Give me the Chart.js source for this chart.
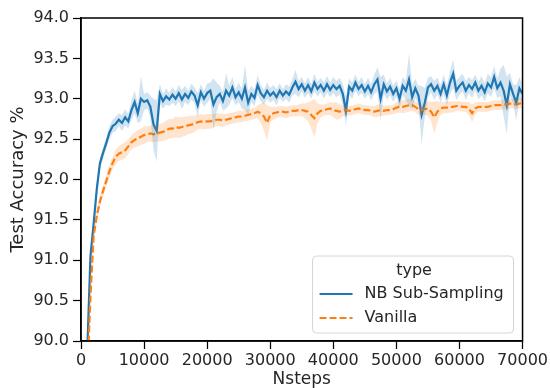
<!DOCTYPE html>
<html>
<head>
<meta charset="utf-8">
<script src="https://cdn.jsdelivr.net/npm/chart.js@4/dist/chart.umd.min.js"></script>
<style>
html,body{margin:0;padding:0;background:#fff;}
canvas{display:block;}
</style>
</head>
<body>
<canvas id="c" width="550" height="388" style="width:550px;height:388px"></canvas>
<script>
const steps = [
  500,1000,1500,2000,2500,3000,3500,4000,4500,5000,
  5500,6000,6500,7000,7500,8000,8500,9000,9500,10000,
  10500,11000,11500,12000,12500,13000,13500,14000,14500,15000,
  15500,16000,16500,17000,17500,18000,18500,19000,19500,20000,
  20500,21000,21500,22000,22500,23000,23500,24000,24500,25000,
  25500,26000,26500,27000,27500,28000,28500,29000,29500,30000,
  30500,31000,31500,32000,32500,33000,33500,34000,34500,35000,
  35500,36000,36500,37000,37500,38000,38500,39000,39500,40000,
  40500,41000,41500,42000,42500,43000,43500,44000,44500,45000,
  45500,46000,46500,47000,47500,48000,48500,49000,49500,50000,
  50500,51000,51500,52000,52500,53000,53500,54000,54500,55000,
  55500,56000,56500,57000,57500,58000,58500,59000,59500,60000,
  60500,61000,61500,62000,62500,63000,63500,64000,64500,65000,
  65500,66000,66500,67000,67500,68000,68500,69000,69500,70000
];

const nbMean = [
  88.5,89.9,91.05,91.45,91.88,92.2,92.33,92.45,92.58,92.66,
  92.69,92.74,92.7,92.77,92.72,92.86,92.96,92.82,93.0,92.96,
  92.98,92.9,92.68,92.6,93.06,92.97,93.03,92.99,93.05,93.0,
  93.07,92.99,93.06,93.01,93.09,93.04,92.92,93.08,93.0,93.07,
  93.1,92.93,93.02,93.06,92.97,93.1,93.04,93.14,93.02,93.08,
  93.0,93.14,92.95,93.06,93.01,93.17,93.07,93.02,93.1,93.04,
  93.08,93.02,93.1,93.04,93.09,93.05,93.14,93.21,93.12,93.18,
  93.1,93.17,93.09,93.2,93.12,93.17,93.1,93.18,93.11,93.17,
  93.12,93.16,93.06,92.85,93.15,93.1,93.2,93.12,93.17,93.09,
  93.16,93.08,93.18,93.24,93.0,93.18,93.09,93.15,93.06,93.13,
  93.0,93.16,93.1,93.24,93.02,93.13,93.04,92.8,92.95,93.14,
  93.18,93.1,93.16,93.06,93.18,93.04,93.2,93.31,93.1,93.16,
  93.2,93.1,93.17,93.12,93.2,93.1,93.16,93.08,93.19,93.14,
  93.27,93.13,93.2,93.1,92.92,93.18,93.06,92.95,93.13,93.06
];
const nbErr = [
  0.1,0.1,0.08,0.08,0.08,0.07,0.07,0.07,0.08,0.08,
  0.09,0.08,0.1,0.1,0.09,0.12,0.14,0.12,0.28,0.1,
  0.1,0.14,0.32,0.38,0.12,0.09,0.1,0.08,0.1,0.09,
  0.1,0.12,0.1,0.09,0.1,0.1,0.15,0.1,0.1,0.12,
  0.1,0.32,0.18,0.1,0.12,0.22,0.12,0.13,0.1,0.12,
  0.12,0.28,0.15,0.1,0.1,0.12,0.1,0.09,0.1,0.09,
  0.09,0.1,0.09,0.08,0.09,0.1,0.1,0.15,0.1,0.09,
  0.09,0.1,0.09,0.11,0.09,0.09,0.1,0.1,0.09,0.1,
  0.1,0.1,0.13,0.18,0.1,0.1,0.1,0.09,0.1,0.09,
  0.1,0.1,0.12,0.15,0.27,0.12,0.1,0.11,0.1,0.1,
  0.12,0.11,0.12,0.32,0.15,0.12,0.12,0.36,0.18,0.12,
  0.1,0.12,0.1,0.11,0.12,0.12,0.14,0.18,0.12,0.11,
  0.11,0.12,0.1,0.11,0.1,0.11,0.12,0.11,0.12,0.12,
  0.14,0.12,0.17,0.32,0.36,0.14,0.12,0.22,0.14,0.12
];

const vanMean = [
  88.0,89.6,90.55,91.3,91.55,91.73,91.86,91.98,92.1,92.2,
  92.28,92.32,92.34,92.36,92.41,92.46,92.49,92.51,92.53,92.55,
  92.56,92.57,92.56,92.57,92.58,92.59,92.61,92.63,92.63,92.65,
  92.64,92.65,92.66,92.67,92.68,92.69,92.71,92.72,92.71,92.72,
  92.72,92.73,92.74,92.74,92.73,92.74,92.75,92.76,92.77,92.78,
  92.78,92.79,92.8,92.81,92.82,92.84,92.82,92.78,92.7,92.8,
  92.82,92.83,92.84,92.84,92.83,92.84,92.85,92.85,92.86,92.86,
  92.85,92.84,92.8,92.76,92.82,92.85,92.86,92.87,92.88,92.86,
  92.85,92.84,92.85,92.86,92.85,92.86,92.87,92.88,92.87,92.86,
  92.86,92.85,92.84,92.85,92.86,92.85,92.86,92.86,92.87,92.89,
  92.9,92.9,92.91,92.92,92.92,92.9,92.87,92.86,92.87,92.88,
  92.84,92.77,92.84,92.88,92.89,92.89,92.9,92.9,92.91,92.91,
  92.9,92.9,92.88,92.82,92.88,92.9,92.9,92.9,92.9,92.91,
  92.92,92.92,92.92,92.93,92.93,92.94,92.94,92.93,92.94,92.95
];
const vanErr = [
  0.1,0.1,0.08,0.07,0.07,0.07,0.07,0.07,0.08,0.08,
  0.09,0.09,0.1,0.1,0.09,0.09,0.09,0.1,0.1,0.11,
  0.1,0.1,0.1,0.1,0.11,0.11,0.12,0.12,0.12,0.13,
  0.13,0.12,0.12,0.11,0.11,0.1,0.09,0.09,0.09,0.09,
  0.09,0.08,0.08,0.08,0.08,0.07,0.07,0.07,0.07,0.07,
  0.07,0.07,0.07,0.07,0.07,0.08,0.12,0.17,0.22,0.1,
  0.08,0.07,0.07,0.07,0.07,0.07,0.07,0.07,0.07,0.08,
  0.09,0.12,0.17,0.24,0.12,0.08,0.07,0.07,0.08,0.09,
  0.11,0.09,0.07,0.06,0.06,0.06,0.06,0.06,0.06,0.06,
  0.06,0.06,0.07,0.08,0.07,0.06,0.06,0.06,0.06,0.07,
  0.07,0.08,0.08,0.08,0.07,0.07,0.07,0.07,0.07,0.09,
  0.12,0.2,0.13,0.08,0.07,0.07,0.07,0.07,0.06,0.06,
  0.06,0.06,0.08,0.11,0.07,0.06,0.06,0.06,0.06,0.06,
  0.06,0.06,0.06,0.06,0.06,0.06,0.06,0.06,0.06,0.06
];

const seriesNames = ['NB Sub-Sampling', 'Vanilla'];
const legendTitle = 'type';
const xTicks = [0,10000,20000,30000,40000,50000,60000,70000];
const yTicks = [90.0,90.5,91.0,91.5,92.0,92.5,93.0,93.5,94.0];

const BLUE = '#1f77b4', ORANGE = '#ff7f0e';
const FONT = "'DejaVu Sans', sans-serif";
const TXT = '#262626';

function pts(ys) { return steps.map((s, i) => ({x: s, y: ys[i]})); }
function band(mean, err, sign) { return steps.map((s, i) => ({x: s, y: mean[i] + sign * err[i]})); }

const bandBase = {pointRadius: 0, borderWidth: 0, tension: 0, clip: 0, borderColor: 'rgba(0,0,0,0)'};

const datasets = [
  Object.assign({label: '_nbLo', data: band(nbMean, nbErr, -1), fill: false}, bandBase),
  Object.assign({label: '_nbHi', data: band(nbMean, nbErr, 1), fill: 0, backgroundColor: 'rgba(31,119,180,0.2)'}, bandBase),
  Object.assign({label: '_vaLo', data: band(vanMean, vanErr, -1), fill: false}, bandBase),
  Object.assign({label: '_vaHi', data: band(vanMean, vanErr, 1), fill: 2, backgroundColor: 'rgba(255,127,14,0.2)'}, bandBase),
  {label: seriesNames[1], data: pts(vanMean), borderColor: ORANGE, borderWidth: 2.2, borderDash: [7, 3], pointRadius: 0, fill: false, tension: 0, clip: 0},
  {label: seriesNames[0], data: pts(nbMean), borderColor: BLUE, borderWidth: 2.2, pointRadius: 0, fill: false, tension: 0, clip: 0}
];

const framePlugin = {
  id: 'frame',
  afterDatasetsDraw(chart) {
    const {ctx, chartArea: a} = chart;
    ctx.save();
    ctx.strokeStyle = '#000';
    ctx.lineWidth = 1.5;
    ctx.strokeRect(a.left, a.top, a.right - a.left, a.bottom - a.top);
    ctx.restore();
  },
  afterDraw(chart) {
    const {ctx, chartArea: a} = chart;
    const w = 201, h = 77;
    const x0 = a.right - 9 - w, y0 = a.bottom - 8 - h;
    ctx.save();
    ctx.beginPath();
    const r = 4;
    ctx.moveTo(x0 + r, y0);
    ctx.arcTo(x0 + w, y0, x0 + w, y0 + h, r);
    ctx.arcTo(x0 + w, y0 + h, x0, y0 + h, r);
    ctx.arcTo(x0, y0 + h, x0, y0, r);
    ctx.arcTo(x0, y0, x0 + w, y0, r);
    ctx.closePath();
    ctx.fillStyle = 'rgba(255,255,255,0.8)';
    ctx.fill();
    ctx.strokeStyle = '#d6d6d6';
    ctx.lineWidth = 1;
    ctx.stroke();
    ctx.fillStyle = TXT;
    ctx.font = '16px ' + FONT;
    ctx.textBaseline = 'middle';
    ctx.textAlign = 'center';
    ctx.fillText(legendTitle, x0 + w / 2 + 1, y0 + 15);
    ctx.textAlign = 'left';
    const rows = [{name: seriesNames[0], color: BLUE, dash: []}, {name: seriesNames[1], color: ORANGE, dash: [7, 3]}];
    rows.forEach((row, i) => {
      const yy = y0 + 38 + i * 24;
      ctx.beginPath();
      ctx.setLineDash(row.dash);
      ctx.strokeStyle = row.color;
      ctx.lineWidth = 2.2;
      ctx.moveTo(x0 + 7, yy);
      ctx.lineTo(x0 + 40, yy);
      ctx.stroke();
      ctx.setLineDash([]);
      ctx.fillText(row.name, x0 + 52, yy);
    });
    ctx.restore();
  }
};

new Chart(document.getElementById('c'), {
  type: 'line',
  data: {datasets},
  plugins: [framePlugin],
  options: {
    responsive: false,
    animation: false,
    events: [],
    layout: {padding: {top: 18, right: 27, left: 0, bottom: 0}},
    plugins: {legend: {display: false}, tooltip: {enabled: false}},
    scales: {
      x: {
        type: 'linear', min: 0, max: 70000,
        afterBuildTicks: s => { s.ticks = xTicks.map(v => ({value: v})); },
        ticks: {callback: v => String(v), font: {family: FONT, size: 16}, color: TXT, padding: 2, maxRotation: 0, autoSkip: false},
        grid: {drawOnChartArea: false, drawTicks: true, tickLength: 8, tickColor: '#000', tickWidth: 1.25, color: '#000'},
        border: {display: true, color: '#000', width: 1.5},
        title: {display: true, text: 'Nsteps', font: {family: FONT, size: 17, lineHeight: 1}, color: TXT, padding: {top: 0, bottom: 0}},
        afterFit: s => { s.height = 47; }
      },
      y: {
        type: 'linear', min: 90, max: 94,
        afterBuildTicks: s => { s.ticks = yTicks.map(v => ({value: v})); },
        ticks: {callback: v => Number(v).toFixed(1), font: {family: FONT, size: 16}, color: TXT, padding: 4, autoSkip: false},
        grid: {drawOnChartArea: false, drawTicks: true, tickLength: 8, tickColor: '#000', tickWidth: 1.25, color: '#000'},
        border: {display: true, color: '#000', width: 1.5},
        title: {display: true, text: 'Test Accuracy %', font: {family: FONT, size: 18, lineHeight: 1}, color: TXT, padding: {top: 9, bottom: 0}},
        afterFit: s => { s.width = 81; }
      }
    }
  }
});
</script>
</body>
</html>
